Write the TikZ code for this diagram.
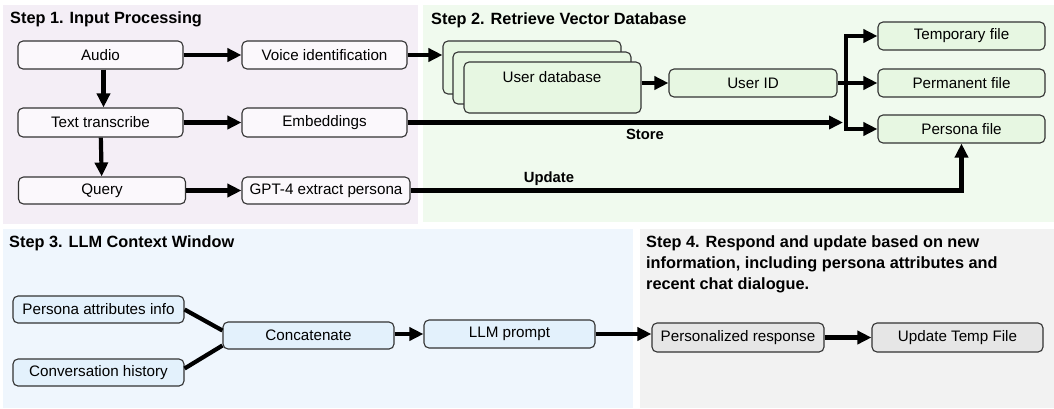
\documentclass[tikz,border=0pt]{standalone}
\usepackage{fontspec}
\setmainfont{Liberation Sans}
\usetikzlibrary{arrows.meta,calc}
\definecolor{pinkbg}{HTML}{F4EEF6}
\definecolor{greenbg}{HTML}{F0FAEE}
\definecolor{bluebg}{HTML}{EFF6FD}
\definecolor{greybg}{HTML}{F2F2F2}
\definecolor{pinkbox}{HTML}{FBF8FC}
\definecolor{greenbox}{HTML}{E7F7E2}
\definecolor{bluebox}{HTML}{E3F1FC}
\definecolor{greybox}{HTML}{E6E6E6}
\definecolor{edge}{HTML}{333333}
\tikzset{
  box/.style={draw=edge, line width=1.1pt, rounded corners=5pt, minimum height=28pt,
    inner sep=0pt, font=\fontsize{15.2}{17}\selectfont},
  b1/.style={box, fill=pinkbox, minimum width=165pt},
  b2/.style={box, fill=greenbox},
  b3/.style={box, fill=bluebox, minimum width=171pt},
  b4/.style={box, fill=greybox, minimum width=171pt},
  arr/.style={line width=4.2pt, line join=miter, -{Triangle[length=14pt,width=13pt]}},
  link/.style={line width=4.2pt},
  ttl/.style={font=\fontsize{16.3}{21}\selectfont\bfseries, anchor=west, inner sep=0pt},
  lbl/.style={font=\fontsize{14.8}{17}\selectfont\bfseries, inner sep=0pt},
  panel/.style={draw=none}
}
\begin{document}
\begin{tikzpicture}[x=1pt,y=-1pt]
\useasboundingbox (0,0) rectangle (1054,408);
\fill[white] (0,0) rectangle (1054,408);
% panels
\fill[pinkbg] (3,5) rectangle (418,224);
\fill[greenbg] (423,5) rectangle (1054,222);
\fill[bluebg] (3,229) rectangle (633,408);
\fill[greybg] (640,229) rectangle (1054,408);
% titles
\node[ttl] (t1) at (10,19) {Step 1. Input Processing};
\node[ttl] (t2) at (431,20) {Step 2. Retrieve Vector Database};
\node[ttl] (t3) at (9,243) {Step 3. LLM Context Window};
\node[ttl, anchor=north west, align=left] (t4) at (646,235) {Step 4. Respond and update based on new\\information, including persona attributes and\\recent chat dialogue.};
% step 1
\node[b1] (audio) at (100.5,55) {Audio};
\node[b1] (voice) at (324.5,55) {Voice identification};
\node[b1, minimum height=29pt] (text) at (100.5,122.5) {Text transcribe};
\node[b1, minimum height=29pt] (embed) at (324.5,122.5) {Embeddings};
\node[b1, minimum width=167pt, minimum height=27pt] (query) at (102,190.5) {Query};
\node[b1, minimum width=168pt, minimum height=27pt] (gpt) at (326,190.5) {GPT-4 extract persona};
% step 2
\node[b2, minimum width=178pt, minimum height=53pt] (dbback) at (532,67.5) {};
\node[b2, minimum width=178pt, minimum height=52pt] (dbmid) at (542,78) {};
\node[b2, minimum width=177pt, minimum height=51pt] (dbfront) at (552.5,87.5) {};
\node[font=\fontsize{15.2}{17}\selectfont] (dblabel) at (552,77) {User database};
\node[b2, minimum width=168pt] (userid) at (753,83) {User ID};
\node[b2, minimum width=167pt] (temp) at (961.5,36) {Temporary file};
\node[b2, minimum width=167pt] (perm) at (961.5,83) {Permanent file};
\node[b2, minimum width=167pt] (persona) at (961.5,129) {Persona file};
\coordinate (bus) at (846,83);
\coordinate (storeend) at (843,122.5);
% step 3
\node[b3, minimum height=27pt] (pattr) at (98.5,309.5) {Persona attributes info};
\node[b3, minimum height=27pt] (convh) at (98.5,372.5) {Conversation history};
\node[b3, minimum height=27pt] (concat) at (308.5,335.5) {Concatenate};
\node[b3] (llm) at (509.5,334) {LLM prompt};
% step 4
\node[b4, minimum width=172pt, minimum height=29pt] (pers) at (738,337.5) {Personalized response};
\node[b4, minimum height=29pt] (upd) at (957.5,337.5) {Update Temp File};
% connectors step 1
\draw[arr] (audio) -- (voice);
\draw[arr] (text) -- (embed);
\draw[arr] (query) -- (gpt);
\draw[arr] ([xshift=3pt]audio.south) -- ([xshift=3pt]text.north);
\draw[arr] (text) -- (query);
% step 1 -> step 2
\draw[arr] (voice.east) -- (dbback.west |- voice.east);
\draw[arr] (embed.east) -- (storeend);
\node[lbl] (store) at (645,134) {Store};
\draw[arr] (gpt.east) -| (persona.south);
\node[lbl] (update) at (549,179) {Update};
% step 2
\draw[arr] (dbfront.east |- userid.west) -- (userid.west);
\draw[arr] (userid.east) -- (perm.west);
\draw[arr] (bus) |- (temp.west);
\draw[arr] (bus) |- (persona.west);
% step 3
\draw[link] (pattr.east) -- ([yshift=5pt]concat.west);
\draw[link] ([yshift=4pt]convh.east) -- ([yshift=-10pt]concat.west);
\draw[arr] (concat.east |- llm.west) -- (llm.west);
\draw[arr] (llm.east) -- (pers.west |- llm.east);
% step 4
\draw[arr] (pers) -- (upd);
\end{tikzpicture}
\end{document}
